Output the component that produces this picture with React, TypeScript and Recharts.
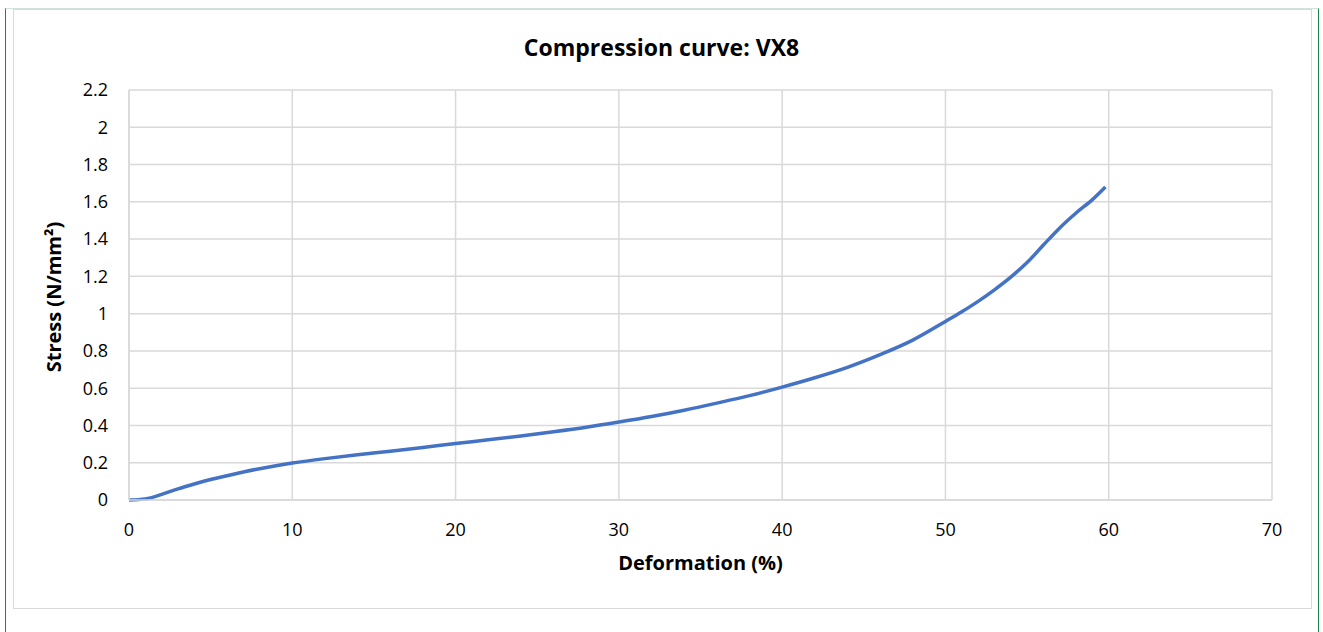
import { LineChart, Line, XAxis, YAxis, CartesianGrid } from 'recharts';

const deformation = [
  0, 1, 2, 3, 4, 5, 6, 7, 8, 9, 10, 12, 14, 16, 18, 20, 22, 24, 26, 28, 30,
  32, 34, 36, 38, 40, 42, 44, 46, 48, 50, 51, 52, 53, 54, 55, 56, 57, 58, 59, 59.8
];
const stress = [
  0, 0.006, 0.03, 0.06, 0.086, 0.11, 0.13, 0.15, 0.168, 0.184, 0.198, 0.222,
  0.243, 0.262, 0.282, 0.303, 0.323, 0.344, 0.366, 0.39, 0.418, 0.448, 0.482,
  0.52, 0.56, 0.606, 0.656, 0.712, 0.78, 0.858, 0.958, 1.01, 1.066, 1.128,
  1.196, 1.274, 1.368, 1.46, 1.54, 1.612, 1.68
];
const xTicks = [0, 10, 20, 30, 40, 50, 60, 70];
const yTicks = [0, 0.2, 0.4, 0.6, 0.8, 1, 1.2, 1.4, 1.6, 1.8, 2, 2.2];

const chartData = deformation.map((d, i) => ({ x: d, y: stress[i] }));

const FONT = '"Open Sans", "Noto Sans", sans-serif';
const tickStyle = { fontSize: 18, fill: '#000', fontFamily: FONT };

export default function App() {
  return (
    <div style={{ position: 'absolute', left: 0, top: 0, width: 1323, height: 632, background: '#fff', fontFamily: FONT }}>
      {/* outer frame */}
      <div style={{ position: 'absolute', left: 5, top: 8, width: 1312, height: 640, borderLeft: '1.5px solid #1e8449', borderRight: '1.5px solid #1e8449', borderTop: '1px solid #cfe3d6' }} />
      {/* chart area border */}
      <div style={{ position: 'absolute', left: 13, top: 9, width: 1297, height: 598, border: '1px solid #d9d9d9' }} />
      <div style={{ position: 'absolute', left: 0, top: 31, width: 1323, textAlign: 'center', fontSize: 23, fontWeight: 700, color: '#000' }}>
        Compression curve: VX8
      </div>
      <div style={{ position: 'absolute', left: 129, top: 549, width: 1143, textAlign: 'center', fontSize: 20, fontWeight: 700, color: '#000' }}>
        Deformation (%)
      </div>
      <div style={{ position: 'absolute', left: 53, top: 297, transform: 'translate(-50%, -50%) rotate(-90deg)', whiteSpace: 'nowrap', fontSize: 20, fontWeight: 700, color: '#000' }}>
        Stress (N/mm²)
      </div>
      <div style={{ position: 'absolute', left: 0, top: 0 }}>
        <LineChart width={1323} height={632} data={chartData} margin={{ top: 90, right: 51, bottom: 102, left: 0 }}>
          <CartesianGrid stroke="#d9d9d9" strokeWidth={1.5} />
          <XAxis
            dataKey="x"
            type="number"
            domain={[0, 70]}
            ticks={xTicks}
            height={30}
            tickLine={false}
            tickSize={0}
            tickMargin={23}
            axisLine={{ stroke: '#d9d9d9', strokeWidth: 1.5 }}
            tick={tickStyle}
            interval={0}
          />
          <YAxis
            type="number"
            domain={[0, 2.2]}
            ticks={yTicks}
            width={129}
            tickLine={false}
            tickSize={0}
            tickMargin={21}
            axisLine={{ stroke: '#d9d9d9', strokeWidth: 1.5 }}
            tick={tickStyle}
            interval={0}
          />
          <Line
            type="monotone"
            dataKey="y"
            stroke="#4472c4"
            strokeWidth={3.5}
            dot={false}
            isAnimationActive={false}
          />
        </LineChart>
      </div>
    </div>
  );
}
